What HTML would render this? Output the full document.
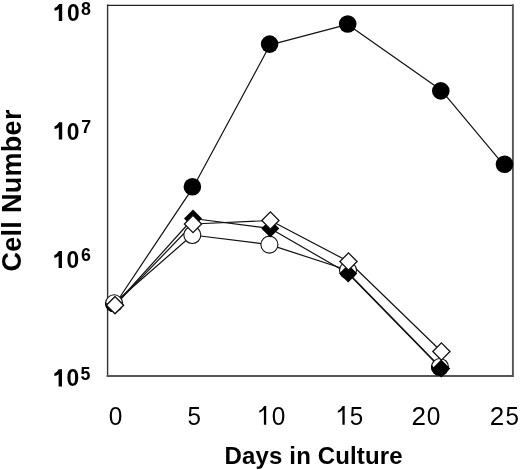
<!DOCTYPE html>
<html>
<head>
<meta charset="utf-8">
<style>
html,body{margin:0;padding:0;background:#fff;}
body{width:520px;height:470px;overflow:hidden;}
svg{display:block;will-change:transform;}
text{font-family:"Liberation Sans",sans-serif;fill:#000;}
.b{font-weight:bold;}
</style>
</head>
<body>
<svg width="520" height="470" viewBox="0 0 520 470">
<rect x="0" y="0" width="520" height="470" fill="#fff"/>
<g fill="none" stroke-linecap="square">
<line x1="107.6" y1="5.3" x2="512.9" y2="5.3" stroke="#222" stroke-width="1.3"/>
<line x1="107.6" y1="5.3" x2="107.6" y2="376" stroke="#333" stroke-width="1.4"/>
<line x1="512.9" y1="5.3" x2="512.9" y2="376" stroke="#555" stroke-width="1.9"/>
<line x1="107.6" y1="376" x2="512.9" y2="376" stroke="#555" stroke-width="1.9"/>
</g>
<g class="b">
<text font-size="24.5" transform="translate(66.98,21.1) scale(0.93,1)">0</text>
<text font-size="17.8" x="81.06" y="14.5">8</text>
<text font-size="24.5" transform="translate(66.78,139.5) scale(0.93,1)">0</text>
<text font-size="17.8" x="81.3" y="132.9">7</text>
<text font-size="24.5" transform="translate(66.53,267.9) scale(0.93,1)">0</text>
<text font-size="17.8" x="81.0" y="261.2">6</text>
<text font-size="24.5" transform="translate(66.53,386.4) scale(0.93,1)">0</text>
<text font-size="17.8" x="80.5" y="380.2">5</text>
</g>
<path fill="#000" d="M62.20 21.10L58.80 21.10L58.80 8.90Q56.90 10.20 54.50 10.80L54.50 8.10Q57.20 6.90 59.10 3.90L62.20 3.90ZM62.20 139.50L58.80 139.50L58.80 127.20Q56.90 128.50 54.50 129.10L54.50 126.40Q57.20 125.20 59.10 122.20L62.20 122.20ZM62.00 267.90L58.60 267.90L58.60 256.10Q56.70 257.40 54.30 258.00L54.30 255.30Q57.00 254.10 58.90 251.10L62.00 251.10ZM62.00 386.40L58.60 386.40L58.60 374.20Q56.70 375.50 54.30 376.10L54.30 373.40Q57.00 372.20 58.90 369.20L62.00 369.20ZM266.20 424.80L263.90 424.80L263.90 409.80Q261.70 411.60 259.30 412.70L259.30 410.80Q262.50 409.20 264.20 405.90L266.20 405.90ZM344.70 424.80L342.40 424.80L342.40 409.90Q340.20 411.70 337.80 412.80L337.80 410.90Q341.00 409.30 342.70 406.00L344.70 406.00Z"/>
<g font-size="26">
<text transform="translate(108.75,424.8) scale(0.94,1)">0</text>
<text transform="translate(187.43,424.8) scale(0.93,1)">5</text>
<text transform="translate(271.85,424.8) scale(0.94,1)">0</text>
<text transform="translate(349.63,424.8) scale(0.93,1)">5</text>
<text transform="translate(411.49,424.8) scale(1.0,1)">2</text>
<text transform="translate(426.85,424.8) scale(0.94,1)">0</text>
<text transform="translate(489.79,424.8) scale(1.0,1)">2</text>
<text transform="translate(505.53,424.8) scale(0.93,1)">5</text>
</g>
<text class="b" font-size="24" letter-spacing="0.14" x="224.6" y="464">Days in Culture</text>
<text class="b" font-size="27" letter-spacing="0.3" transform="translate(20.8,271.6) rotate(-90)">Cell Number</text>
<g fill="none" stroke="#111" stroke-width="1.2" stroke-linejoin="round">
<polyline points="114.3,305.5 193.5,186.8 270.1,44.8 347.7,24.4 441,89.9 504.5,165.9"/>
<polyline points="115,305 193,218.5 270.3,228.4 348.2,273.5 441.2,368.5"/>
<polyline points="115,305.2 193,224.0 270.4,220.5 348.5,261.5 441.4,351.5"/>
<polyline points="114.1,303.3 192.3,235 269.4,244.6 348,270.3"/><polyline points="348,272.6 440.0,367.0"/>
</g>
<g fill="#000"><circle cx="192.4" cy="186.8" r="8.8"/><circle cx="269.6" cy="44.1" r="8.8"/><circle cx="347.7" cy="24" r="8.8"/><circle cx="440.8" cy="90.9" r="8.8"/><circle cx="504.5" cy="164.3" r="8.8"/></g>
<g fill="#fff" stroke="#111" stroke-width="1.1"><circle cx="114.1" cy="303.3" r="8.5"/><circle cx="192.3" cy="235" r="8.5"/><circle cx="269.4" cy="244.6" r="8.5"/><circle cx="348" cy="270.3" r="8.5"/><circle cx="440.0" cy="367.0" r="8.5"/></g>
<defs><clipPath id="c0"><path d="M87.57 281.34L135.25 336.39L112.57 356.03L64.89 300.98Z"/></clipPath><clipPath id="c1"><path d="M413.85 343.81L460.78 399.34L437.87 418.70L390.94 363.18Z"/></clipPath></defs>
<g fill="#000"><circle cx="114.1" cy="303.3" r="9.0" clip-path="url(#c0)"/><circle cx="440.0" cy="367.0" r="9.0" clip-path="url(#c1)"/></g>
<path fill="#000" d="M115.00 296.00L124.00 305.00L115.00 314.00L106.00 305.00ZM193.00 209.50L202.00 218.50L193.00 227.50L184.00 218.50ZM270.30 219.40L279.30 228.40L270.30 237.40L261.30 228.40ZM348.20 264.50L357.20 273.50L348.20 282.50L339.20 273.50ZM441.20 359.50L450.20 368.50L441.20 377.50L432.20 368.50Z"/>
<path fill="#fff" stroke="#111" stroke-width="1.3" d="M115.00 296.60L123.60 305.20L115.00 313.80L106.40 305.20ZM193.00 215.40L201.60 224.00L193.00 232.60L184.40 224.00ZM270.40 211.90L279.00 220.50L270.40 229.10L261.80 220.50ZM348.50 252.90L357.10 261.50L348.50 270.10L339.90 261.50ZM441.40 342.90L450.00 351.50L441.40 360.10L432.80 351.50Z"/>
</svg>
</body>
</html>
